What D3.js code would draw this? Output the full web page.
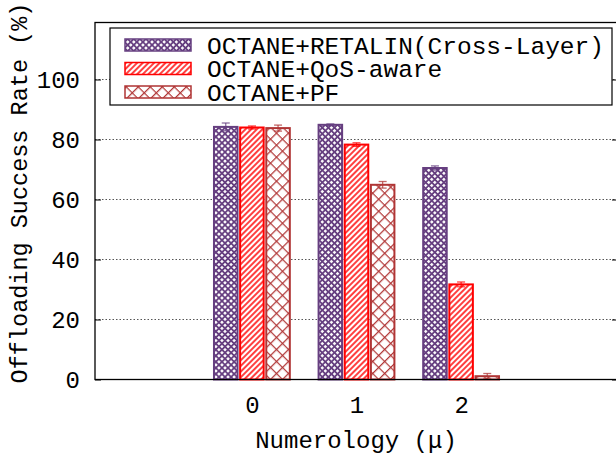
<!DOCTYPE html>
<html>
<head>
<meta charset="utf-8">
<script src="https://cdn.jsdelivr.net/npm/d3@7"></script>
<style>
  html, body { margin: 0; padding: 0; background: #fff; }
  svg { display: block; font-family: "Liberation Mono", "DejaVu Sans Mono", monospace; }
</style>
</head>
<body>
<svg id="chart" width="616" height="462"></svg>
<script>
// data
const categories = ["0", "1", "2"];
const seriesNames = ["OCTANE+RETALIN(Cross-Layer)", "OCTANE+QoS-aware", "OCTANE+PF"];
const retalin = [84.2, 84.9, 70.5];
const retalinErr = [1.3, 0.3, 0.7];
const qosAware = [84.0, 78.3, 31.7];
const qosAwareErr = [0.5, 0.6, 0.8];
const pf = [83.8, 64.9, 1.1];
const pfErr = [1.0, 1.1, 0.9];
const yTicks = [0, 20, 40, 60, 80, 100];

const colors = ["#663f80", "#ff0000", "#b03535"];
const series = [
  { name: seriesNames[0], values: retalin, errs: retalinErr, pat: "p-check" },
  { name: seriesNames[1], values: qosAware, errs: qosAwareErr, pat: "p-diag" },
  { name: seriesNames[2], values: pf, errs: pfErr, pat: "p-cross" }
];

const svg = d3.select("#chart");
const mLeft = 95, mRight = 618, mTop = 22.5, mBottom = 379.5;

const x = d3.scaleLinear().domain([-1.5, 3.5]).range([mLeft, mRight]);
const y = d3.scaleLinear().domain([0, 119]).range([mBottom, mTop]);

// fill patterns
const defs = svg.append("defs");
const pCheck = defs.append("pattern").attr("id", "p-check")
  .attr("patternUnits", "userSpaceOnUse").attr("width", 4.3).attr("height", 4.3)
  .attr("patternTransform", "rotate(45)");
pCheck.append("rect").attr("width", 4.3).attr("height", 4.3).attr("fill", colors[0]);
pCheck.append("rect").attr("x", 0.9).attr("y", 0.9).attr("width", 2.5).attr("height", 2.5).attr("fill", "#fff");

const pDiag = defs.append("pattern").attr("id", "p-diag")
  .attr("patternUnits", "userSpaceOnUse").attr("width", 4).attr("height", 10)
  .attr("patternTransform", "rotate(45)");
pDiag.append("rect").attr("width", 4).attr("height", 10).attr("fill", "#fff");
pDiag.append("line").attr("x1", 1).attr("x2", 1).attr("y1", 0).attr("y2", 10)
  .attr("stroke", colors[1]).attr("stroke-width", 1.5);

const pCross = defs.append("pattern").attr("id", "p-cross")
  .attr("patternUnits", "userSpaceOnUse").attr("width", 8.5).attr("height", 8.5)
  .attr("patternTransform", "rotate(45)");
pCross.append("rect").attr("width", 8.5).attr("height", 8.5).attr("fill", "#fff");
pCross.append("path").attr("d", "M0.6,0V8.5M0,0.6H8.5")
  .attr("stroke", colors[2]).attr("stroke-width", 1.3).attr("fill", "none");

// grid
svg.append("g").selectAll("line")
  .data(yTicks.filter(d => d > 0))
  .join("line")
  .attr("x1", mLeft).attr("x2", mRight)
  .attr("y1", d => y(d)).attr("y2", d => y(d))
  .attr("stroke", "#555").attr("stroke-width", 1)
  .attr("stroke-dasharray", "1.5,2");

// bars
const barW = 0.225, pitch = 0.25;
series.forEach((s, i) => {
  const g = svg.append("g");
  const off = (i - 1) * pitch;
  g.selectAll("rect")
    .data(s.values)
    .join("rect")
    .attr("x", (d, j) => x(j + off - barW / 2))
    .attr("width", x(barW) - x(0))
    .attr("y", d => y(d))
    .attr("height", d => y(0) - y(d))
    .attr("fill", `url(#${s.pat})`)
    .attr("stroke", colors[i])
    .attr("stroke-width", 2);
  // error bars
  const eb = g.selectAll("g.eb")
    .data(s.values.map((v, j) => ({ v, e: s.errs[j], j })))
    .join("g")
    .attr("class", "eb")
    .attr("stroke", colors[i]).attr("stroke-opacity", 0.75).attr("stroke-width", 1.3);
  eb.append("line")
    .attr("x1", d => x(d.j + off)).attr("x2", d => x(d.j + off))
    .attr("y1", d => y(d.v - d.e)).attr("y2", d => y(d.v + d.e));
  eb.append("line")
    .attr("x1", d => x(d.j + off) - 4).attr("x2", d => x(d.j + off) + 4)
    .attr("y1", d => y(d.v + d.e)).attr("y2", d => y(d.v + d.e));
  eb.append("line")
    .attr("x1", d => x(d.j + off) - 4).attr("x2", d => x(d.j + off) + 4)
    .attr("y1", d => y(d.v - d.e)).attr("y2", d => y(d.v - d.e));
});

// border and inward ticks
svg.append("rect")
  .attr("x", mLeft).attr("y", mTop)
  .attr("width", mRight - mLeft).attr("height", mBottom - mTop)
  .attr("fill", "none").attr("stroke", "#000").attr("stroke-width", 1.3);

const yAxis = svg.append("g").attr("transform", `translate(${mLeft},0)`)
  .call(d3.axisLeft(y).tickValues(yTicks).tickSize(-6).tickPadding(15));
yAxis.select(".domain").remove();
yAxis.selectAll("text").attr("font-size", 24).attr("font-family", "Liberation Mono").attr("fill", "#000");
svg.append("g").attr("transform", `translate(${mRight},0)`)
  .call(d3.axisRight(y).tickValues(yTicks).tickSize(-6).tickFormat(""))
  .select(".domain").remove();

const xAxis = svg.append("g").attr("transform", `translate(0,${mBottom})`)
  .call(d3.axisBottom(x).tickValues([0, 1, 2]).tickFormat((d, i) => categories[i]).tickSize(0).tickPadding(16));
xAxis.select(".domain").remove();
xAxis.selectAll("text").attr("font-size", 24).attr("font-family", "Liberation Mono").attr("fill", "#000");

// axis titles
svg.append("text")
  .attr("x", 356).attr("y", 448)
  .attr("text-anchor", "middle").attr("font-size", 24)
  .text("Numerology (μ)");
svg.append("text")
  .attr("transform", "translate(27,193) rotate(-90)")
  .attr("text-anchor", "middle").attr("font-size", 23.5)
  .text("Offloading Success Rate (%)");

// legend
const lg = svg.append("g");
lg.append("rect").attr("x", 110).attr("y", 28).attr("width", 502).attr("height", 77)
  .attr("fill", "#fff").attr("stroke", "#000").attr("stroke-width", 1.2);
const rows = lg.selectAll("g.row").data(series).join("g")
  .attr("class", "row")
  .attr("transform", (d, i) => `translate(0,${45 + i * 23.5})`);
rows.append("rect").attr("x", 125).attr("y", -6).attr("width", 66).attr("height", 12)
  .attr("fill", d => `url(#${d.pat})`)
  .attr("stroke", (d, i) => colors[i]).attr("stroke-width", 1.5);
rows.append("text").attr("x", 207).attr("y", 0).attr("dy", "0.35em")
  .attr("font-size", 24.5)
  .text(d => d.name);
</script>
</body>
</html>
